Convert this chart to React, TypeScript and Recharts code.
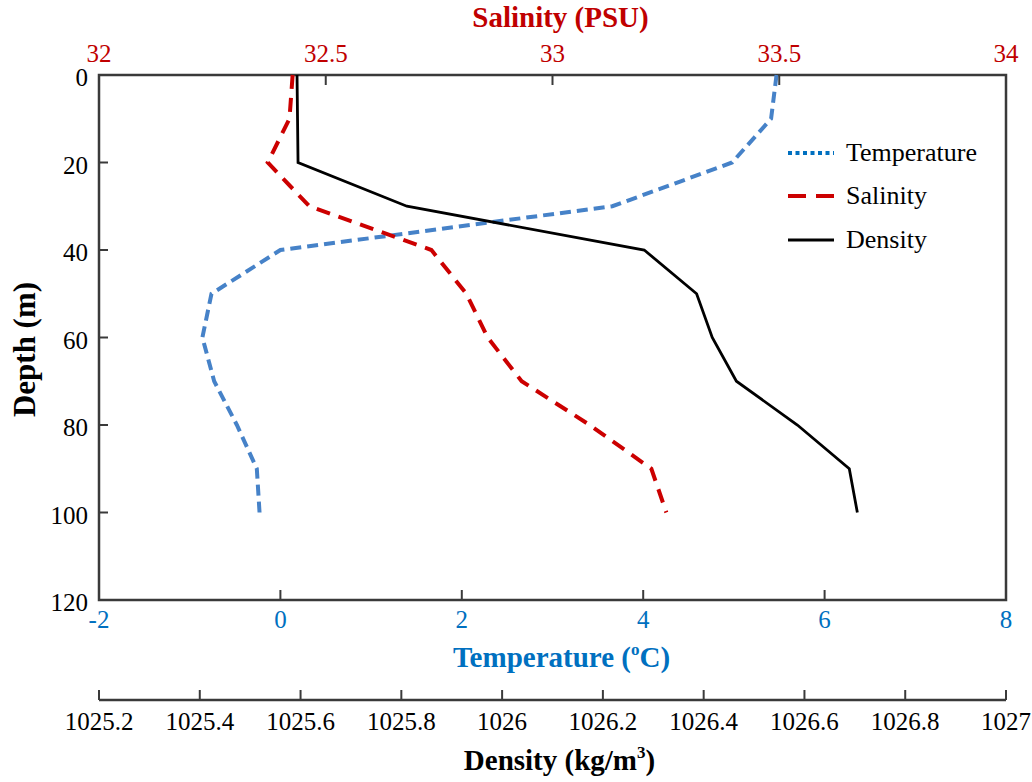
import React from "react";
import { LineChart, Line, XAxis, YAxis, Legend, ReferenceArea } from "recharts";

// CTD profile, depth in metres, one reading every 10 m
const depths = [0, 10, 20, 30, 40, 50, 60, 70, 80, 90, 100];
const temperature = [5.47, 5.41, 4.98, 3.66, 0.0, -0.76, -0.86, -0.73, -0.48, -0.26, -0.23];
const salinity = [32.427, 32.42, 32.372, 32.464, 32.733, 32.81, 32.857, 32.932, 33.082, 33.218, 33.251];
const density = [1025.593, 1025.594, 1025.595, 1025.811, 1026.282, 1026.386, 1026.417, 1026.465, 1026.586, 1026.689, 1026.705];

const depthTicks = [0, 20, 40, 60, 80, 100, 120];
const salinityTicks = [32, 32.5, 33, 33.5, 34];
const temperatureTicks = [-2, 0, 2, 4, 6, 8];
const densityTicks = [1025.2, 1025.4, 1025.6, 1025.8, 1026, 1026.2, 1026.4, 1026.6, 1026.8, 1027];

const data = depths.map((depth, i) => ({
  depth,
  temperature: temperature[i],
  salinity: salinity[i],
  density: density[i],
}));

const FONT = '"Liberation Serif", "Times New Roman", Times, serif';
const AXIS = "#3a3a3a";
const RED = "#C00000";
const BLUE = "#0070C0";

// bottom axes stack by id: "b1" sits on the plot, "b2" below it
const TEMP_AXIS = "b1_temperature";
const DENS_AXIS = "b2_density";

const TopTick = ({ x, y, payload }: any) => (
  <g>
    <line x1={x} x2={x} y1={y} y2={y + 10} stroke={AXIS} strokeWidth={2} />
    <text x={x} y={y - 13} textAnchor="middle" fill={RED} fontSize={25} fontFamily={FONT}>
      {payload.value}
    </text>
  </g>
);

const TempTick = ({ x, y, payload }: any) => (
  <g>
    <line x1={x} x2={x} y1={y - 10} y2={y} stroke={AXIS} strokeWidth={2} />
    <text x={x} y={y + 28} textAnchor="middle" fill={BLUE} fontSize={25} fontFamily={FONT}>
      {payload.value}
    </text>
  </g>
);

const DensityTick = ({ x, y, payload }: any) => (
  <g>
    <line x1={x} x2={x} y1={y - 10} y2={y} stroke={AXIS} strokeWidth={2} />
    <text x={x} y={y + 30} textAnchor="middle" fill="#000" fontSize={25} fontFamily={FONT}>
      {payload.value}
    </text>
  </g>
);

const DepthTick = ({ x, y, payload }: any) => (
  <g>
    <line x1={x} x2={x + 9} y1={y} y2={y} stroke={AXIS} strokeWidth={2} />
    <text x={x - 11} y={y + 11} textAnchor="end" fill="#000" fontSize={25} fontFamily={FONT}>
      {payload.value}
    </text>
  </g>
);

// axis title, with an optional raised part (ºC, m³)
const AxisTitle = ({ viewBox, before, sup, after = "", color, dx = 0, dy }: any) => {
  if (!viewBox) return null;
  const cx = viewBox.x + viewBox.width / 2 + dx;
  return (
    <text
      x={cx}
      y={viewBox.y + dy}
      textAnchor="middle"
      fill={color}
      fontSize={29}
      fontWeight="bold"
      fontFamily={FONT}
    >
      <tspan>{before}</tspan>
      {sup && (
        <tspan fontSize={17} dy={-12}>
          {sup}
        </tspan>
      )}
      {sup && <tspan dy={12}>{after}</tspan>}
    </text>
  );
};

const DepthTitle = ({ viewBox }: any) => {
  if (!viewBox) return null;
  const cx = 35;
  const cy = viewBox.y + viewBox.height / 2 + 12;
  return (
    <text
      x={cx}
      y={cy}
      transform={`rotate(-90 ${cx} ${cy})`}
      textAnchor="middle"
      fill="#000"
      fontSize={31}
      fontWeight="bold"
      fontFamily={FONT}
    >
      Depth (m)
    </text>
  );
};

const legendItems = [
  { name: "Temperature", color: BLUE, dash: "4 3.5", width: 4 },
  { name: "Salinity", color: "#CC0000", dash: "18 10", width: 4 },
  { name: "Density", color: "#000", dash: undefined, width: 3 },
];

const ProfileLegend = () => (
  <div style={{ fontFamily: FONT, fontSize: 26, color: "#000" }}>
    {legendItems.map((it) => (
      <div key={it.name} style={{ display: "flex", alignItems: "center", height: 43.5 }}>
        <svg width={46} height={10} style={{ display: "block" }}>
          <line
            x1={0}
            x2={46}
            y1={5}
            y2={5}
            stroke={it.color}
            strokeWidth={it.width}
            strokeDasharray={it.dash}
          />
        </svg>
        <span style={{ marginLeft: 12, lineHeight: 1 }}>{it.name}</span>
      </div>
    ))}
  </div>
);

export default function App() {
  return (
    <div style={{ position: "absolute", left: 0, top: 0, background: "#fff" }}>
      <LineChart
        layout="vertical"
        width={1032}
        height={782}
        data={data}
        margin={{ top: 0, right: 26, bottom: 0, left: 0 }}
      >
        <XAxis
          xAxisId="sal"
          orientation="top"
          type="number"
          domain={[32, 34]}
          ticks={salinityTicks}
          height={75}
          axisLine={false}
          tickLine={false}
          tickSize={0}
          tickMargin={0}
          tick={<TopTick />}
          interval={0}
          label={<AxisTitle before="Salinity (PSU)" color={RED} dx={8} dy={27} />}
        />
        <XAxis
          xAxisId={TEMP_AXIS}
          orientation="bottom"
          type="number"
          domain={[-2, 8]}
          ticks={temperatureTicks}
          height={100}
          axisLine={false}
          tickLine={false}
          tickSize={0}
          tickMargin={0}
          tick={<TempTick />}
          interval={0}
          label={<AxisTitle before="Temperature (" sup="o" after="C)" color={BLUE} dx={9} dy={67} />}
        />
        <XAxis
          xAxisId={DENS_AXIS}
          orientation="bottom"
          type="number"
          domain={[1025.2, 1027]}
          ticks={densityTicks}
          height={82}
          axisLine={{ stroke: AXIS, strokeWidth: 2.5 }}
          tickLine={false}
          tickSize={0}
          tickMargin={0}
          tick={<DensityTick />}
          interval={0}
          label={<AxisTitle before="Density (kg/m" sup="3" after=")" color="#000" dx={7} dy={70} />}
        />
        <YAxis
          type="number"
          dataKey="depth"
          domain={[0, 120]}
          ticks={depthTicks}
          width={99}
          axisLine={false}
          tickLine={false}
          tickSize={0}
          tickMargin={0}
          tick={<DepthTick />}
          interval={0}
          label={<DepthTitle />}
        />
        <ReferenceArea
          xAxisId={TEMP_AXIS}
          x1={-2}
          x2={8}
          y1={0}
          y2={120}
          fill="none"
          fillOpacity={0}
          stroke={AXIS}
          strokeWidth={2.5}
          strokeOpacity={1}
        />
        <Legend
          align="center"
          verticalAlign="middle"
          layout="horizontal"
          content={() => <ProfileLegend />}
          wrapperStyle={{ left: 788, top: 131, width: 240 }}
        />
        <Line
          xAxisId={TEMP_AXIS}
          dataKey="temperature"
          name="Temperature"
          type="linear"
          stroke="#4682C8"
          strokeWidth={4}
          strokeDasharray="11 6"
          dot={false}
          isAnimationActive={false}
        />
        <Line
          xAxisId="sal"
          dataKey="salinity"
          name="Salinity"
          type="linear"
          stroke="#CC0000"
          strokeWidth={4}
          strokeDasharray="14 9"
          dot={false}
          isAnimationActive={false}
        />
        <Line
          xAxisId={DENS_AXIS}
          dataKey="density"
          name="Density"
          type="linear"
          stroke="#000"
          strokeWidth={2.8}
          dot={false}
          isAnimationActive={false}
        />
      </LineChart>
    </div>
  );
}
